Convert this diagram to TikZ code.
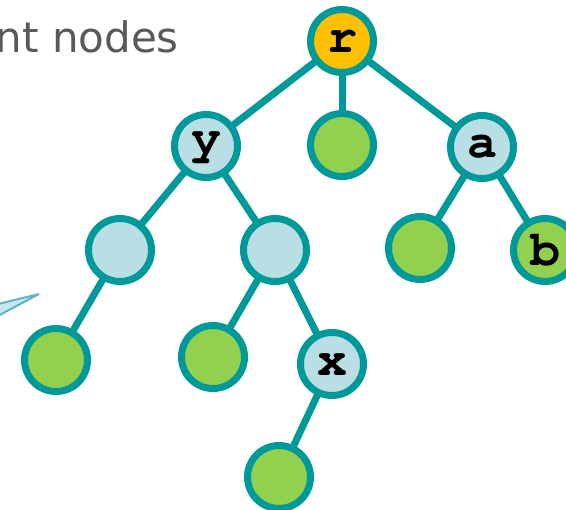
\documentclass[tikz,border=0pt]{standalone}
\usepackage[T1]{fontenc}
\usepackage{fontspec}
\setmainfont{DejaVu Sans}
\newcommand{\courierbold}{\fontencoding{T1}\fontfamily{pcr}\fontseries{b}\selectfont}
\usetikzlibrary{backgrounds}
\definecolor{rim}{RGB}{0,153,153}
\definecolor{inner}{RGB}{185,223,228}
\definecolor{leaf}{RGB}{146,208,80}
\definecolor{root}{RGB}{255,192,0}
\definecolor{captxt}{RGB}{89,89,89}
\definecolor{callfill}{RGB}{200,230,238}
\definecolor{callline}{RGB}{95,178,200}
\tikzset{
  tnode/.style={circle, draw=rim, line width=7pt, minimum size=63pt, inner sep=0pt,
    font=\courierbold\fontsize{50}{50}\selectfont},
  innernode/.style={tnode, fill=inner},
  leafnode/.style={tnode, fill=leaf},
  rootnode/.style={tnode, fill=root},
  branch/.style={draw=rim, line width=7pt}
}
\begin{document}
\begin{tikzpicture}[x=1pt, y=-1pt]
\useasboundingbox (0,0) rectangle (566,510);
\clip (0,0) rectangle (566,510);
% caption text and callout pointer
\node[anchor=base east, inner sep=0pt, text=captxt, font=\fontsize{42}{42}\selectfont] (cap) at (179,53) {nt nodes};
\coordinate (tip) at (39,294);
\coordinate (tu) at (-6,305);
\coordinate (tl) at (-6,318);
\draw[fill=callfill, draw=callline, line width=2pt, line join=bevel] (tu) -- (tip) -- (tl);
% tree nodes
\node[rootnode] (r) at (342,41) {r};
\node[innernode] (y) at (206,146) {y};
\node[leafnode] (m) at (342,145) {};
\node[innernode] (a) at (482,147) {a};
\node[innernode] (p) at (120,250) {};
\node[innernode] (q) at (275,250) {};
\node[leafnode] (c) at (420,248) {};
\node[leafnode] (b) at (545,250) {b};
\node[leafnode] (d) at (56,360) {};
\node[leafnode] (e) at (213,357) {};
\node[innernode] (x) at (332,364) {x};
\node[leafnode] (f) at (279,477) {};
% branches
\begin{scope}[on background layer]
\draw[branch] (r.center) -- (y.center);
\draw[branch] (r.center) -- (m.center);
\draw[branch] (r.center) -- (a.center);
\draw[branch] (y.center) -- (p.center);
\draw[branch] (y.center) -- (q.center);
\draw[branch] (p.center) -- (d.center);
\draw[branch] (q.center) -- (e.center);
\draw[branch] (q.center) -- (x.center);
\draw[branch] (x.center) -- (f.center);
\draw[branch] (a.center) -- (c.center);
\draw[branch] (a.center) -- (b.center);
\end{scope}
\end{tikzpicture}
\end{document}
